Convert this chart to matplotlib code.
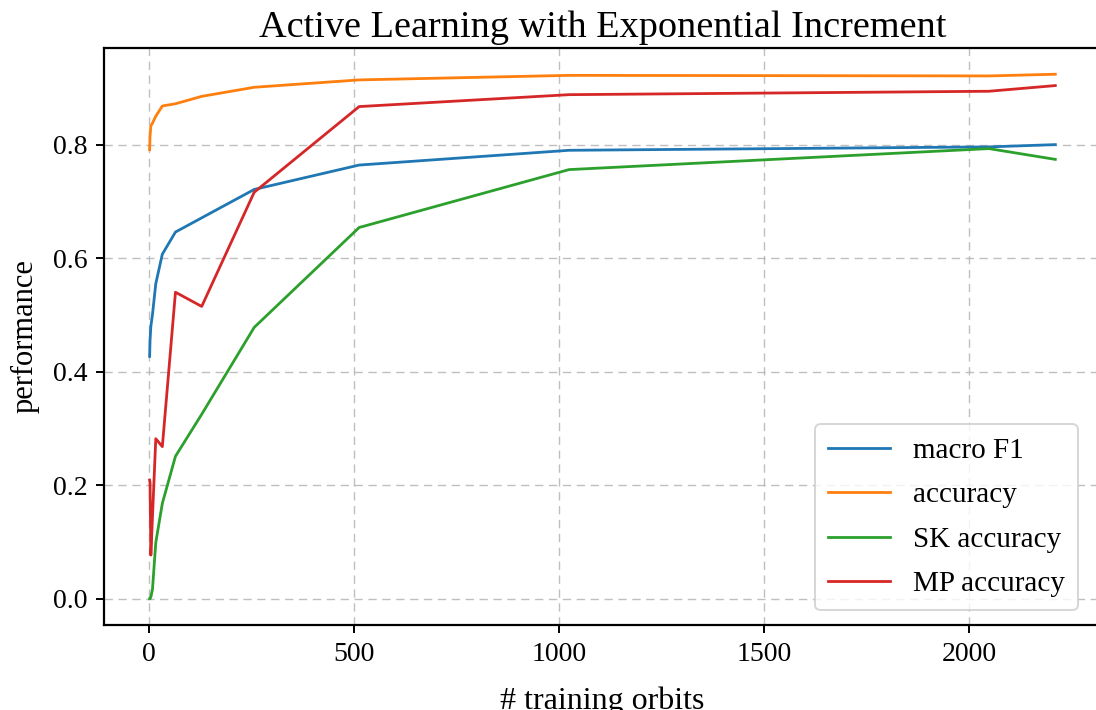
import matplotlib
matplotlib.use('Agg')
import matplotlib.pyplot as plt

# training set sizes (exponential increments)
orbits = [1, 2, 4, 8, 16, 32, 64, 128, 256, 512, 1024, 2048, 2210]

macro_f1 = [0.427, 0.455, 0.480, 0.501, 0.555, 0.607, 0.646, 0.671, 0.721,
            0.764, 0.790, 0.796, 0.800]
accuracy = [0.791, 0.815, 0.833, 0.838, 0.850, 0.868, 0.872, 0.885, 0.901,
            0.914, 0.922, 0.921, 0.924]
sk_accuracy = [0.0, 0.0, 0.003, 0.017, 0.099, 0.168, 0.251, 0.325, 0.478,
               0.654, 0.756, 0.793, 0.774]
mp_accuracy = [0.209, 0.205, 0.077, 0.145, 0.282, 0.268, 0.540, 0.515, 0.716,
               0.867, 0.888, 0.894, 0.904]

plt.rcParams['font.family'] = ['Liberation Serif', 'DejaVu Serif']

fig = plt.figure(figsize=(10.96, 7.10), dpi=100)
# the original picture is cropped: right spine falls just outside the image
ax = fig.add_axes([0.0952, 0.1197, 0.909, 0.8127])

ax.plot(orbits, macro_f1, color='tab:blue', lw=2, label='macro F1')
ax.plot(orbits, accuracy, color='tab:orange', lw=2, label='accuracy')
ax.plot(orbits, sk_accuracy, color='tab:green', lw=2, label='SK accuracy')
ax.plot(orbits, mp_accuracy, color='tab:red', lw=2, label='MP accuracy')

ax.grid(True, linestyle=(0, (6, 4)), color='#b0b0b0', alpha=0.8, lw=1)
ax.set_axisbelow(True)
for s in ax.spines.values():
    s.set_linewidth(1.6)
ax.tick_params(labelsize=20, width=1.4, length=6, pad=6)
ax.set_xticks([0, 500, 1000, 1500, 2000])
ax.set_yticks([0.0, 0.2, 0.4, 0.6, 0.8])

ax.set_title('Active Learning with Exponential Increment', fontsize=27.5, pad=8)
ax.set_xlabel('# training orbits', fontsize=23, labelpad=14)
ax.set_ylabel('performance', fontsize=22, labelpad=10)

leg = ax.legend(loc='lower right', fontsize=21, framealpha=0.8, borderpad=0.45,
                handlelength=2.1, handletextpad=0.8, labelspacing=0.62,
                borderaxespad=0.5, bbox_to_anchor=(0.992, 0.0))
leg.get_frame().set_linewidth(1.4)

fig.savefig('out.png', dpi=100)
